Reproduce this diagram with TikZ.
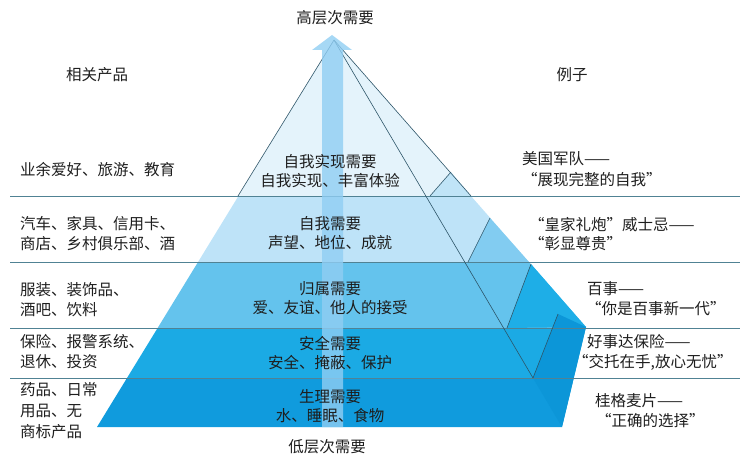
\documentclass[tikz,border=0pt]{standalone}
\usepackage{fontspec}
\setmainfont{Noto Sans CJK SC}
\usepackage{xcolor}
\usepackage{tikz}
\definecolor{levela}{RGB}{228,243,251}
\definecolor{levelb}{RGB}{190,227,248}
\definecolor{levelc}{RGB}{100,195,237}
\definecolor{leveld}{RGB}{27,170,228}
\definecolor{levele}{RGB}{16,155,221}
\definecolor{sidea}{RGB}{192,228,247}
\definecolor{sideb}{RGB}{130,204,241}
\definecolor{sidec}{RGB}{30,174,231}
\definecolor{sided}{RGB}{12,150,216}
\definecolor{rulecol}{RGB}{80,130,148}
\definecolor{edgecol}{RGB}{45,85,105}
\definecolor{arrowblue}{RGB}{144,206,243}
\definecolor{ink}{RGB}{30,30,30}

\begin{document}
\begin{tikzpicture}[
    x=1pt, y=-1pt,
    heading/.style={font=\fontsize{15.5}{19}\selectfont, text=ink, inner sep=0pt},
    lvl/.style={font=\fontsize{15.5}{19.5}\selectfont, text=ink, align=center, inner sep=0pt},
    prod/.style={font=\fontsize{15.5}{20}\selectfont, text=ink, align=left, anchor=west, inner sep=0pt},
    ex/.style={font=\fontsize{15.5}{19}\selectfont, text=ink, anchor=west, inner sep=0pt},
    hrule/.style={draw=rulecol, line width=0.8pt},
    pyredge/.style={draw=edgecol, line width=0.6pt}
]
\useasboundingbox (0,0) rectangle (752,460);

% Pyramid corners
\coordinate (apex) at (334,40);
\coordinate (bl) at (97,427);
\coordinate (br) at (562,427);
\coordinate (corner) at (586,327);
\coordinate (front) at (533,378);

% Level bands
\begin{scope}
\clip (apex) -- (bl) -- (br) -- (corner) -- cycle;
\fill[levela] (0,0) rectangle (752,196);
\fill[levelb] (0,196) rectangle (752,262);
\fill[levelc] (0,262) rectangle (752,328);
\fill[leveld] (0,328) rectangle (752,378);
\fill[levele] (0,378) rectangle (752,460);
\end{scope}

% Side steps
\fill[sidea] (430,196) -- (451,172) -- (471,196) -- cycle;
\fill[sideb] (468,262) -- (490,218) -- (529,262) -- cycle;
\fill[sidec] (507,328) -- (531,264) -- (corner) -- cycle;
\fill[sided] (front) -- (558,314) -- (corner) -- (br) -- cycle;

% Rows
\foreach \y in {196,262,328,378}
    \draw[hrule] (10,\y) -- (740,\y);

% Edges
\draw[pyredge] (apex) -- (238,196);
\draw[pyredge] (apex) -- (471,196);
\draw[pyredge] (apex) -- (front);
\draw[pyredge] (430,196) -- (451,172);
\draw[pyredge] (468,262) -- (490,218);
\draw[pyredge] (507,328) -- (531,264);
\draw[pyredge] (front) -- (558,314);

% Arrow
\fill[arrowblue, opacity=0.8] (322,427) -- (322,50) -- (312,50) -- (332,35)
    -- (352,50) -- (343,50) -- (343,427) -- cycle;

% Headings
\node[heading] (high) at (335,18) {高层次需要};
\node[heading] (low) at (327,447) {低层次需要};
\node[heading] (prodhead) at (97,75) {相关产品};
\node[heading] (exhead) at (572,75) {例子};

% Levels
\node[lvl] (lvla) at (330,171) {自我实现需要\\自我实现、丰富体验};
\node[lvl] (lvlb) at (330,233) {自我需要\\声望、地位、成就};
\node[lvl] (lvlc) at (330,298) {归属需要\\爱、友谊、他人的接受};
\node[lvl] (lvld) at (330,353) {安全需要\\安全、掩蔽、保护};
\node[lvl] (lvle) at (330,406) {生理需要\\水、睡眠、食物};

% Products
\node[prod] (proda) at (20,170) {业余爱好、旅游、教育};
\node[prod] (prodb) at (20,234) {汽车、家具、信用卡、\\商店、乡村俱乐部、酒};
\node[prod] (prodc) at (20,300) {服装、装饰品、\\酒吧、饮料};
\node[prod] (prodd) at (20,352) {保险、报警系统、\\退休、投资};
\node[prod, font=\fontsize{15.5}{21}\selectfont] (prode) at (20,411) {药品、日常\\用品、无\\商标产品};

% Examples
\node[ex] (exaa) at (522,159) {美国军队——};
\node[ex] (exab) at (522,180) {“展现完整的自我”};
\node[ex] (exba) at (529,225) {“皇家礼炮”威士忌——};
\node[ex] (exbb) at (529,244) {“彰显尊贵”};
\node[ex] (exca) at (587,289) {百事——};
\node[ex] (excb) at (586,309) {“你是百事新一代”};
\node[ex] (exda) at (587,342) {好事达保险——};
\node[ex] (exdb) at (573,362) {“交托在手,放心无忧”};
\node[ex] (exea) at (595,401) {桂格麦片——};
\node[ex] (exeb) at (596,421) {“正确的选择”};

\end{tikzpicture}
\end{document}
